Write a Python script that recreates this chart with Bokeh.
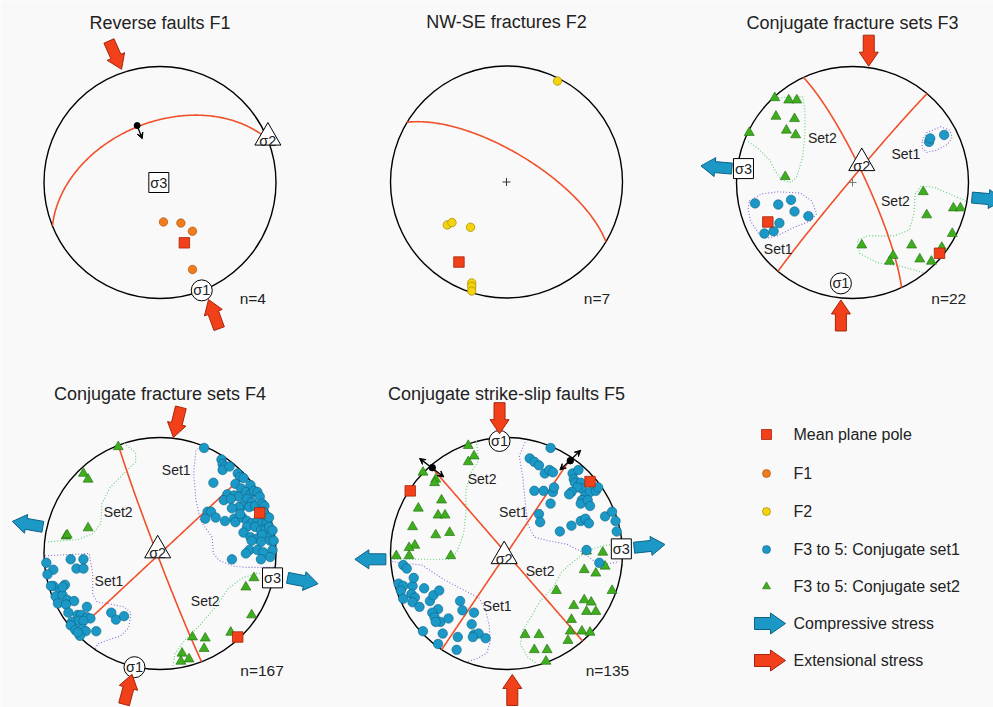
import math
from bokeh.plotting import figure
from bokeh.models import Range1d, Arrow, VeeHead
from bokeh.core.properties import value
from bokeh.embed import file_html
from bokeh.resources import INLINE

# ======================= DATA (net coordinates: east, north; primitive radius = 1) =======================
titles = ["Reverse faults F1", "NW-SE fractures F2", "Conjugate fracture sets F3",
          "Conjugate fracture sets F4", "Conjugate strike-slip faults F5"]
counts = ["n=4", "n=7", "n=22", "n=167", "n=135"]

# ---- F1 reverse faults
f1_x = [0.03, 0.18, 0.28, 0.28]
f1_y = [-0.34, -0.35, -0.42, -0.75]
f1_mean_x = [0.21]
f1_mean_y = [-0.52]
f1_planes = [(338, 47)]            # (dip direction, dip)
f1_sigma = {"σ1": (0.36, -0.93), "σ2": (0.93, 0.37), "σ3": (-0.01, 0.00)}
f1_slip = [(-0.197, 0.491, -0.153, 0.377)]

# ---- F2 NW-SE fractures
f2_x = [0.44, -0.51, -0.47, -0.31, -0.30, -0.30, -0.30]
f2_y = [0.87, -0.37, -0.35, -0.39, -0.87, -0.90, -0.94]
f2_mean_x = [-0.41]
f2_mean_y = [-0.69]
f2_planes = [(31, 69)]

# ---- F3 conjugate fracture sets
f3_s1_x = [-0.84, -0.64, -0.53, -0.50, -0.38, -0.63, -0.76, -0.68, 0.66, 0.79, 0.67]
f3_s1_y = [-0.18, -0.19, -0.15, -0.25, -0.29, -0.35, -0.44, -0.42, 0.35, 0.41, 0.38]
f3_s2_x = [-0.67, -0.55, -0.48, -0.66, -0.50, -0.57, -0.49, -0.89, -0.58,
           0.61, 0.87, 0.93, 0.64, 0.86, 0.08, 0.51, 0.35, 0.32, 0.58, 0.68, 0.77]
f3_s2_y = [0.73, 0.71, 0.71, 0.57, 0.55, 0.45, 0.41, 0.43, 0.05,
           -0.08, -0.22, -0.22, -0.28, -0.44, -0.54, -0.54, -0.63, -0.68, -0.66, -0.68, -0.56]
f3_mean_x = [-0.73, 0.75]
f3_mean_y = [-0.34, -0.61]
f3_planes = [(65, 81), (310, 88)]
f3_sigma = {"σ1": (-0.10, -0.87), "σ2": (0.08, 0.15), "σ3": (-0.94, 0.12)}

# ---- F4 conjugate fracture sets
f4_s1_x = [0.38, 0.53, 0.54, 0.56, 0.54, 0.60, 0.67, 0.69, 0.72, 0.46, 0.65, 0.78, 0.70, 0.58, 0.64,
           0.68, 0.74, 0.78, 0.81, 0.84, 0.86, 0.75, 0.79, 0.71, 0.77, 0.82, 0.88, 0.90, 0.55, 0.61,
           0.41, 0.44, 0.48, 0.39, 0.56, 0.64, 0.65, 0.71, 0.75, 0.79, 0.84, 0.88, 0.92, 0.75, 0.72,
           0.82, 0.87, 0.91, 0.94, 0.78, 0.84, 0.88, 0.95, 0.79, 0.87, 0.95, 0.77, 0.84, 0.89, 0.97,
           0.74, 0.87, 0.95, 0.62, 0.91, 0.89, 0.68, 0.62, 0.69, 0.94, 0.97, 0.98,
           -0.77, -0.66, -0.72, -0.66, -0.98, -0.92, -0.97, -0.92, -0.82, -0.86, -0.90, -0.84, -0.80,
           -0.74, -0.88, -0.81, -0.63, -0.79, -0.71, -0.68, -0.63, -0.60, -0.76, -0.70, -0.77, -0.66,
           -0.73, -0.67, -0.64, -0.55, -0.42, -0.38, -0.31, -0.69, -0.71, -0.94, -0.84]
f4_s1_y = [0.91, 0.81, 0.77, 0.75, 0.72, 0.75, 0.69, 0.66, 0.65, 0.61, 0.60, 0.59, 0.56, 0.51, 0.50,
           0.49, 0.53, 0.51, 0.54, 0.53, 0.49, 0.47, 0.44, 0.41, 0.40, 0.41, 0.43, 0.41, 0.46, 0.47,
           0.36, 0.36, 0.31, 0.30, 0.28, 0.30, 0.27, 0.31, 0.28, 0.26, 0.28, 0.26, 0.27, 0.23, 0.18,
           0.23, 0.20, 0.21, 0.23, 0.14, 0.13, 0.16, 0.14, 0.11, 0.10, 0.11, 0.03, 0.03, 0.01, 0.03,
           0.00, -0.05, -0.03, -0.05, 0.33, 0.36, 0.40, 0.39, 0.34, 0.31, 0.20, 0.11,
           -0.05, -0.05, -0.13, -0.13, -0.08, -0.14, -0.18, -0.28, -0.27, -0.32, -0.37, -0.36, -0.40,
           -0.41, -0.43, -0.44, -0.46, -0.51, -0.53, -0.53, -0.55, -0.56, -0.59, -0.58, -0.62, -0.58,
           -0.66, -0.65, -0.67, -0.67, -0.51, -0.57, -0.54, -0.71, -0.68, -0.28, -0.29]
f4_s2_x = [-0.36, -0.66, -0.62, -0.62, -0.81, -0.80, 0.81, 0.74, 0.79, 0.61, 0.28, 0.39, 0.38, 0.19, 0.18, 0.25]
f4_s2_y = [0.92, 0.69, 0.64, 0.22, 0.15, 0.16, -0.21, -0.29, -0.53, -0.68, -0.72, -0.73, -0.82, -0.86, -0.93, -0.91]
f4_mean_x = [0.86, 0.67]
f4_mean_y = [0.35, -0.72]
f4_planes = [(249, 88), (137, 90)]
f4_sigma = {"σ1": (-0.22, -0.98), "σ2": (-0.02, 0.01), "σ3": (0.97, -0.21)}

# ---- F5 conjugate strike-slip faults
f5_s1_x = [0.38, 0.20, 0.24, 0.28, 0.33, 0.37, 0.40, 0.57, 0.62, 0.58, 0.59, 0.64, 0.65, 0.61, 0.56,
           0.54, 0.68, 0.72, 0.77, 0.79, 0.24, 0.32, 0.40, 0.41, 0.65, 0.64, 0.70, 0.72, 0.38, 0.28,
           0.29, 0.46, 0.56, 0.64, 0.68, 0.71, 0.85, 0.91, 0.94, 0.95, 0.69, 0.80,
           -0.89, -0.86, -0.93, -0.89, -0.91, -0.81, -0.80, -0.71, -0.89, -0.82, -0.79, -0.81, -0.75,
           -0.66, -0.63, -0.58, -0.59, -0.64, -0.62, -0.57, -0.61, -0.50, -0.40, -0.38, -0.28, -0.30,
           -0.72, -0.55, -0.42, -0.28, -0.24, -0.29, -0.18, -0.59, -0.43]
f5_s1_y = [0.91, 0.82, 0.79, 0.76, 0.69, 0.72, 0.70, 0.69, 0.72, 0.64, 0.61, 0.61, 0.56, 0.57, 0.53,
           0.51, 0.50, 0.53, 0.54, 0.57, 0.54, 0.54, 0.53, 0.57, 0.46, 0.43, 0.46, 0.41, 0.43, 0.34,
           0.27, 0.19, 0.24, 0.28, 0.30, 0.26, 0.32, 0.36, 0.28, 0.19, 0.03, -0.08,
           -0.10, -0.13, -0.26, -0.28, -0.32, -0.28, -0.21, -0.30, -0.39, -0.35, -0.38, -0.42, -0.46,
           -0.41, -0.36, -0.32, -0.48, -0.51, -0.55, -0.59, -0.59, -0.56, -0.41, -0.49, -0.51, -0.61,
           -0.67, -0.69, -0.72, -0.70, -0.69, -0.72, -0.73, -0.78, -0.83]
f5_s2_x = [-0.33, -0.28, -0.33, -0.72, -0.61, -0.62, -0.56, -0.76, -0.59, -0.53, -0.81, -0.61, -0.49,
           -0.79, -0.84, -0.95, -0.84, -0.48,
           0.83, 0.67, 0.77, 0.85, 0.91, 0.43, 0.67, 0.73, 0.58, 0.69, 0.77, 0.56, 0.55, 0.65, 0.72,
           0.53, 0.16, 0.28, 0.24, 0.35, 0.34, 0.69]
f5_s2_y = [0.93, 0.84, 0.79, 0.70, 0.64, 0.61, 0.46, 0.39, 0.33, 0.33, 0.23, 0.16, 0.18,
           0.07, 0.05, -0.02, -0.02, -0.02,
           0.01, -0.14, -0.17, -0.11, -0.32, -0.32, -0.40, -0.42, -0.45, -0.50, -0.50, -0.57, -0.67,
           -0.67, -0.68, -0.75, -0.70, -0.70, -0.83, -0.83, -0.93, 0.02]
f5_mean_x = [0.72, -0.83]
f5_mean_y = [0.62, 0.54]
f5_planes = [(49, 90), (124, 90)]
f5_sigma = {"σ1": (-0.06, 0.97), "σ2": (-0.02, -0.04), "σ3": (0.99, 0.04)}
f5_slip_dot_x = [-0.64, 0.55]
f5_slip_dot_y = [0.74, 0.80]
f5_slip = [(-0.75, 0.82, -0.54, 0.66), (0.46, 0.72, 0.64, 0.89)]

# ---- set boundaries (hand-drawn outlines)
f3_set1_a_x = [0.60, 0.64, 0.76, 0.84, 0.86, 0.82, 0.73, 0.64, 0.60, 0.60]
f3_set1_a_y = [0.36, 0.43, 0.48, 0.45, 0.39, 0.33, 0.28, 0.26, 0.30, 0.36]
f3_set1_b_x = [-0.89, -0.79, -0.65, -0.45, -0.35, -0.31, -0.36, -0.51, -0.65, -0.74, -0.81, -0.88, -0.90, -0.89]
f3_set1_b_y = [-0.16, -0.10, -0.08, -0.09, -0.16, -0.27, -0.33, -0.39, -0.46, -0.48, -0.44, -0.33, -0.23, -0.16]
f3_set2_a_x = [-0.69, -0.43, -0.41, -0.41, -0.43, -0.48, -0.53, -0.61, -0.66, -0.72, -0.81, -0.91]
f3_set2_a_y = [0.73, 0.74, 0.62, 0.42, 0.22, 0.05, 0.00, 0.02, 0.09, 0.20, 0.29, 0.36]
f3_set2_b_x = [0.98, 0.84, 0.70, 0.59, 0.54, 0.53, 0.49, 0.36, 0.13, 0.04, 0.06, 0.21, 0.41, 0.62]
f3_set2_b_y = [-0.16, -0.10, -0.04, -0.03, -0.10, -0.27, -0.41, -0.46, -0.46, -0.50, -0.61, -0.69, -0.72, -0.78]
f4_set1_a_x = [0.35, 0.31, 0.29, 0.31, 0.35, 0.45, 0.46, 0.51, 0.64, 0.75, 0.88, 0.99]
f4_set1_a_y = [0.92, 0.89, 0.69, 0.46, 0.28, 0.14, 0.00, -0.06, -0.11, -0.12, -0.12, -0.12]
f4_set1_b_x = [-0.99, -0.61, -0.58, -0.58, -0.54, -0.46, -0.31, -0.25, -0.27, -0.34, -0.46, -0.54, -0.56]
f4_set1_b_y = [-0.02, 0.00, -0.18, -0.35, -0.42, -0.43, -0.46, -0.51, -0.64, -0.71, -0.75, -0.78, -0.83]
f4_set2_a_x = [-0.31, -0.21, -0.21, -0.43, -0.50, -0.51, -0.58, -0.71, -0.97]
f4_set2_a_y = [0.95, 0.87, 0.79, 0.57, 0.43, 0.26, 0.17, 0.12, 0.10]
f4_set2_b_x = [0.11, 0.13, 0.22, 0.35, 0.48, 0.59, 0.71, 0.84, 0.93]
f4_set2_b_y = [-0.97, -0.86, -0.74, -0.61, -0.46, -0.30, -0.21, -0.17, -0.17]
f5_set1_a_x = [0.16, 0.11, 0.14, 0.16, 0.18, 0.24, 0.36, 0.52, 0.64, 0.75, 0.87, 0.97]
f5_set1_a_y = [0.96, 0.84, 0.66, 0.46, 0.26, 0.14, 0.11, 0.08, 0.02, -0.06, -0.09, -0.07]
f5_set1_b_x = [-0.99, -0.73, -0.53, -0.36, -0.24, -0.18, -0.15, -0.14, -0.17, -0.26, -0.33]
f5_set1_b_y = [-0.07, -0.10, -0.23, -0.32, -0.38, -0.48, -0.62, -0.76, -0.86, -0.91, -0.93]
f5_set2_a_x = [-0.26, -0.24, -0.31, -0.35, -0.35, -0.37, -0.43, -0.50, -0.73, -0.99]
f5_set2_a_y = [0.97, 0.80, 0.69, 0.54, 0.34, 0.17, 0.01, -0.05, -0.05, -0.05]
f5_set2_b_x = [0.97, 0.84, 0.71, 0.59, 0.48, 0.41, 0.29, 0.21, 0.14, 0.12, 0.18, 0.26]
f5_set2_b_y = [0.08, 0.07, 0.03, -0.06, -0.15, -0.28, -0.41, -0.55, -0.66, -0.78, -0.89, -0.95]

f3_set_labels = [("Set2", -0.26, 0.38), ("Set1", 0.46, 0.25), ("Set2", 0.37, -0.16), ("Set1", -0.64, -0.57)]
f4_set_labels = [("Set1", 0.14, 0.72), ("Set2", -0.36, 0.36), ("Set1", -0.44, -0.24), ("Set2", 0.39, -0.41)]
f5_set_labels = [("Set2", -0.21, 0.64), ("Set1", 0.06, 0.36), ("Set2", 0.29, -0.15), ("Set1", -0.08, -0.45)]

# stress arrows: (tail east, tail north, heading in compass degrees)
f1_ext = [(-0.44, 1.22, 156), (0.51, -1.26, 340)]
f3_ext = [(0.14, 1.27, 180), (-0.10, -1.28, 0)]
f3_comp = [(-1.04, 0.12, 275), (1.03, -0.13, 95)]
f4_ext = [(0.18, 1.26, 194), (-0.31, -1.30, 15)]
f4_comp = [(-1.01, 0.23, 280), (1.10, -0.21, 101)]
f5_ext = [(-0.06, 1.30, 180), (0.05, -1.31, 0)]
f5_comp = [(1.10, 0.05, 84), (-1.04, -0.05, 270)]

legend_labels = ["Mean plane pole", "F1", "F2", "F3 to 5: Conjugate set1", "F3 to 5: Conjugate set2",
                 "Compressive stress", "Extensional stress"]

# ======================= STYLE / LAYOUT =======================
W, H = 993, 707
BG = "#f9f9f9"
FONT = value("Liberation Sans")
TXT = "#222222"
R = 116.0
CENTERS = [(159.5, 525.0), (506.0, 525.5), (852.0, 525.0), (159.5, 154.0), (506.0, 154.0)]

RED = "#f2401a"; RED_LINE = "#a5260c"; GC = "#f0502a"
BLUE = "#1b98c6"; BLUE_LINE = "#0b6386"
GREEN = "#3fae1e"; GREEN_LINE = "#1f6a0c"
ORANGE = "#f07c1e"; ORANGE_LINE = "#9c4c0c"
YELLOW = "#f6d40c"; YELLOW_LINE = "#8f7a00"
PURPLE_DOT = "#8c68d6"; GREEN_DOT = "#57cf73"

p = figure(width=W, height=H, x_range=Range1d(0, W), y_range=Range1d(0, H),
           x_axis_type=None, y_axis_type=None, output_backend="svg", toolbar_location=None,
           min_border=0, background_fill_color=BG, border_fill_color=BG, outline_line_color=None)


def place(k, xs, ys):
    cx, cy = CENTERS[k]
    return [cx + R * x for x in xs], [cy + R * y for y in ys]


def great_circle(dd, dip, n=181):
    s = math.radians(dd - 90.0)
    d = math.radians(dd)
    dp = math.radians(dip)
    xs, ys = [], []
    for i in range(n):
        t = math.pi * i / (n - 1)
        e = math.cos(t) * math.sin(s) + math.sin(t) * math.sin(d) * math.cos(dp)
        nn = math.cos(t) * math.cos(s) + math.sin(t) * math.cos(d) * math.cos(dp)
        dn = max(-1.0, min(1.0, math.sin(t) * math.sin(dp)))
        plunge = math.asin(dn)
        trend = math.atan2(e, nn)
        r = math.sqrt(2.0) * math.sin((math.pi / 2 - plunge) / 2)
        xs.append(r * math.sin(trend))
        ys.append(r * math.cos(trend))
    return xs, ys


def block_arrow(tx, ty, az, L, hl, hw, sw):
    a = math.radians(az)
    dx, dy = math.sin(a), math.cos(a)
    nx, ny = math.cos(a), -math.sin(a)
    b = L - hl
    pts = [(sw, 0), (sw, b), (hw, b), (0, L), (-hw, b), (-sw, b), (-sw, 0)]
    xs = [tx + nx * u + dx * v for u, v in pts]
    ys = [ty + ny * u + dy * v for u, v in pts]
    return xs, ys


def draw_arrows(k, specs, color, line):
    cx, cy = CENTERS[k]
    axs, ays = [], []
    for ex, ny_, az in specs:
        xs, ys = block_arrow(cx + R * ex, cy + R * ny_, az, 31, 14, 9.5, 5.5)
        axs.append(xs); ays.append(ys)
    p.patches(axs, ays, fill_color=color, line_color=line, line_width=1)


def text(xs, ys, labels, size, align="center", baseline="middle", color=TXT):
    p.text(x=xs, y=ys, text=labels, text_font=FONT, text_font_size=size,
           text_align=align, text_baseline=baseline, text_color=color)


# primitives, titles, counts
for k in range(5):
    cx, cy = CENTERS[k]
    p.circle(x=[cx], y=[cy], radius=R, fill_color=None, line_color="black", line_width=1.4)
    text([cx], [cy + 160], [titles[k]], "18px")
n_off = [(0.80, -1.0), (0.78, -1.0), (0.83, -1.0), (0.88, -1.01), (0.87, -1.01)]
for k in range(5):
    xs, ys = place(k, [n_off[k][0]], [n_off[k][1]])
    text(xs, ys, [counts[k]], "15.5px")

# set boundaries
contours = [
    (2, f3_set1_a_x, f3_set1_a_y, PURPLE_DOT), (2, f3_set1_b_x, f3_set1_b_y, PURPLE_DOT),
    (2, f3_set2_a_x, f3_set2_a_y, GREEN_DOT), (2, f3_set2_b_x, f3_set2_b_y, GREEN_DOT),
    (3, f4_set1_a_x, f4_set1_a_y, PURPLE_DOT), (3, f4_set1_b_x, f4_set1_b_y, PURPLE_DOT),
    (3, f4_set2_a_x, f4_set2_a_y, GREEN_DOT), (3, f4_set2_b_x, f4_set2_b_y, GREEN_DOT),
    (4, f5_set1_a_x, f5_set1_a_y, PURPLE_DOT), (4, f5_set1_b_x, f5_set1_b_y, PURPLE_DOT),
    (4, f5_set2_a_x, f5_set2_a_y, GREEN_DOT), (4, f5_set2_b_x, f5_set2_b_y, GREEN_DOT),
]
for k, cxs, cys, col in contours:
    xs, ys = place(k, cxs, cys)
    p.line(xs, ys, line_color=col, line_width=1.1, line_dash="1 2")

# great circles
for k, planes in [(0, f1_planes), (1, f2_planes), (2, f3_planes), (3, f4_planes), (4, f5_planes)]:
    for dd, dip in planes:
        gx, gy = great_circle(dd, dip)
        xs, ys = place(k, gx, gy)
        p.line(xs, ys, line_color=GC, line_width=1.6)

# centre crosses
for k, col in [(1, "#333333"), (2, "#777777")]:
    xs, ys = place(k, [0.0], [0.0])
    p.scatter(xs, ys, marker="cross", size=8, line_color=col, line_width=1)

# poles
xs, ys = place(0, f1_x, f1_y)
p.scatter(xs, ys, marker="circle", size=8.5, fill_color=ORANGE, line_color=ORANGE_LINE, line_width=0.6)
xs, ys = place(1, f2_x, f2_y)
p.scatter(xs, ys, marker="circle", size=8.5, fill_color=YELLOW, line_color=YELLOW_LINE, line_width=0.6)
for k, bx, by, gx_, gy_ in [(2, f3_s1_x, f3_s1_y, f3_s2_x, f3_s2_y),
                            (3, f4_s1_x, f4_s1_y, f4_s2_x, f4_s2_y),
                            (4, f5_s1_x, f5_s1_y, f5_s2_x, f5_s2_y)]:
    xs, ys = place(k, gx_, gy_)
    p.scatter(xs, ys, marker="triangle", size=10, fill_color=GREEN, line_color=GREEN_LINE, line_width=0.6)
    xs, ys = place(k, bx, by)
    p.scatter(xs, ys, marker="circle", size=9.5, fill_color=BLUE, line_color=BLUE_LINE, line_width=0.6)

# mean plane poles
for k, mx, my in [(0, f1_mean_x, f1_mean_y), (1, f2_mean_x, f2_mean_y), (2, f3_mean_x, f3_mean_y),
                  (3, f4_mean_x, f4_mean_y), (4, f5_mean_x, f5_mean_y)]:
    xs, ys = place(k, mx, my)
    p.scatter(xs, ys, marker="square", size=10.5, fill_color=RED, line_color=RED_LINE, line_width=0.8)

# slip markers
for x0, y0, x1, y1 in f1_slip:
    (sx, ex), (sy, ey) = place(0, [x0, x1], [y0, y1])
    p.add_layout(Arrow(x_start=sx, y_start=sy, x_end=ex, y_end=ey, line_width=1.3, line_color="black",
                       end=VeeHead(size=6, line_color="black", fill_color="black")))
    dx, dy = place(0, [x0], [y0])
    p.scatter(dx, dy, marker="circle", size=6, fill_color="black", line_color="black")
for x0, y0, x1, y1 in f5_slip:
    (sx, ex), (sy, ey) = place(4, [x0, x1], [y0, y1])
    p.add_layout(Arrow(x_start=sx, y_start=sy, x_end=ex, y_end=ey, line_width=1.3, line_color="black",
                       start=VeeHead(size=6, line_color="black", fill_color="black"),
                       end=VeeHead(size=6, line_color="black", fill_color="black")))
xs, ys = place(4, f5_slip_dot_x, f5_slip_dot_y)
p.scatter(xs, ys, marker="circle", size=6.5, fill_color="black", line_color="black")

# principal stress symbols
for k, sig in [(0, f1_sigma), (2, f3_sigma), (3, f4_sigma), (4, f5_sigma)]:
    for name, (ex, ny_) in sig.items():
        xs, ys = place(k, [ex], [ny_])
        if name == "σ1":
            p.scatter(xs, ys, marker="circle", size=21, fill_color="white", line_color="black", line_width=1)
            text(xs, ys, [name], "14.5px")
        elif name == "σ2":
            p.scatter(xs, [ys[0] + 2], marker="triangle", size=26, fill_color="white", line_color="black",
                      line_width=1)
            text(xs, [ys[0] - 1], [name], "14.5px")
        else:
            p.scatter(xs, ys, marker="square", size=20, fill_color="white", line_color="black", line_width=1)
            text(xs, ys, [name], "14.5px")

# set labels
for k, labs in [(2, f3_set_labels), (3, f4_set_labels), (4, f5_set_labels)]:
    xs, ys = place(k, [l[1] for l in labs], [l[2] for l in labs])
    text(xs, ys, [l[0] for l in labs], "14px")

# stress arrows
draw_arrows(0, f1_ext, RED, RED_LINE)
draw_arrows(2, f3_ext, RED, RED_LINE)
draw_arrows(2, f3_comp, BLUE, BLUE_LINE)
draw_arrows(3, f4_ext, RED, RED_LINE)
draw_arrows(3, f4_comp, BLUE, BLUE_LINE)
draw_arrows(4, f5_ext, RED, RED_LINE)
draw_arrows(4, f5_comp, BLUE, BLUE_LINE)

# legend
LX, TX = 766, 793
rows = [273, 234, 196, 158, 121, 84, 47]
p.scatter([LX], [rows[0]], marker="square", size=10, fill_color=RED, line_color=RED_LINE, line_width=0.8)
p.scatter([LX], [rows[1]], marker="circle", size=8, fill_color=ORANGE, line_color=ORANGE_LINE, line_width=0.6)
p.scatter([LX], [rows[2]], marker="circle", size=8, fill_color=YELLOW, line_color=YELLOW_LINE, line_width=0.6)
p.scatter([LX], [rows[3]], marker="circle", size=8, fill_color=BLUE, line_color=BLUE_LINE, line_width=0.6)
p.scatter([LX], [rows[4]], marker="triangle", size=8, fill_color=GREEN, line_color=GREEN_LINE, line_width=0.6)
for r_, col, ln in [(rows[5], BLUE, BLUE_LINE), (rows[6], RED, RED_LINE)]:
    xs, ys = block_arrow(754, r_, 90, 31, 15, 10.5, 6)
    p.patch(xs, ys, fill_color=col, line_color=ln, line_width=1)
text([TX] * 7, rows, legend_labels, "16px", align="left")

open("out.html", "w").write(file_html(p, INLINE))
